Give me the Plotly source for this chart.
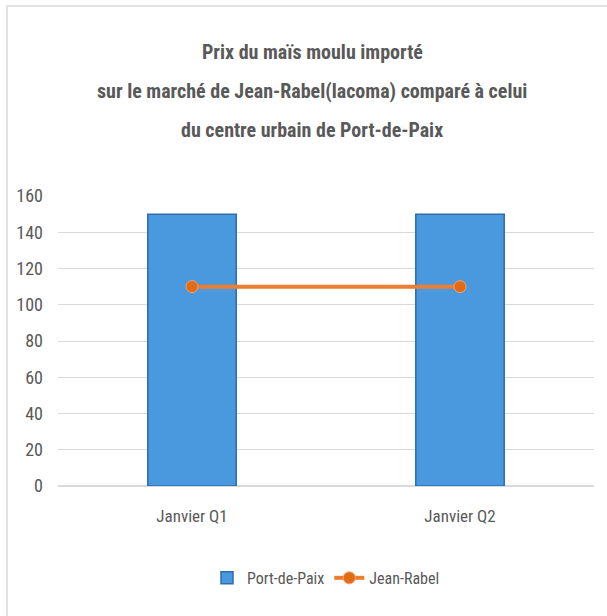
import plotly.graph_objects as go

# data
periods = ["Janvier Q1", "Janvier Q2"]
port_de_paix = [150, 150]
jean_rabel = [110, 110]
y_ticks = [0, 20, 40, 60, 80, 100, 120, 140, 160]

title_lines = ["Prix du maïs moulu importé",
               "sur le marché de Jean-Rabel(lacoma) comparé à celui",
               "du centre urbain de Port-de-Paix"]

narrow = "Roboto Condensed, Lato, sans-serif"
grey_txt = "#595959"

fig = go.Figure()

fig.add_trace(go.Bar(
    x=periods, y=port_de_paix, name="Port-de-Paix",
    marker=dict(color="#4A98DE", line=dict(color="#2E6CAF", width=1.5))))

fig.add_trace(go.Scatter(
    x=periods, y=jean_rabel, name="Jean-Rabel", mode="lines+markers",
    line=dict(color="#ED7D31", width=4),
    marker=dict(color="#E26B14", size=12, symbol="circle",
                line=dict(color="#F4A26A", width=1))))

fig.update_layout(
    width=607, height=616,
    margin=dict(l=58, r=13, t=196, b=130),
    paper_bgcolor="white", plot_bgcolor="white",
    bargap=0.67,
    font=dict(family=narrow, color=grey_txt, size=16),
    showlegend=True,
    legend=dict(orientation="h", x=0.5, xanchor="center", y=-0.317, yanchor="middle",
                font=dict(size=16, color=grey_txt), traceorder="normal"),
)

# title in three lines, spaced like the original
for i, line in enumerate(title_lines):
    fig.add_annotation(text="<b>" + line + "</b>", xref="paper", yref="paper",
                       x=(312 - 58) / 536, y=(486 - (52 + 39 * i)) / 290,
                       showarrow=False, font=dict(size=20, color=grey_txt, family=narrow),
                       xanchor="center", yanchor="middle")

fig.update_yaxes(range=[0, 160], tickvals=y_ticks, showgrid=True, gridcolor="#D9D9D9",
                 gridwidth=1, zeroline=True, zerolinecolor="#D9D9D9", zerolinewidth=1.5,
                 ticks="", ticklabelstandoff=14, tickfont=dict(size=18, color=grey_txt))
fig.update_xaxes(showgrid=False, showline=False, ticks="", ticklabelstandoff=18,
                 tickfont=dict(size=17, color=grey_txt))

# light outer frame of the chart area
fig.add_shape(type="rect", xref="paper", yref="paper",
              x0=(7 - 58) / 536, x1=(640 - 58) / 536,
              y0=(486 - 640) / 290, y1=(486 - 6) / 290,
              line=dict(color="#D9D9D9", width=1.5), fillcolor="rgba(0,0,0,0)", layer="below")

fig.write_html("out.html", config={"displayModeBar": False},
               post_script="document.body.style.margin='0';document.body.style.overflow='hidden';")
